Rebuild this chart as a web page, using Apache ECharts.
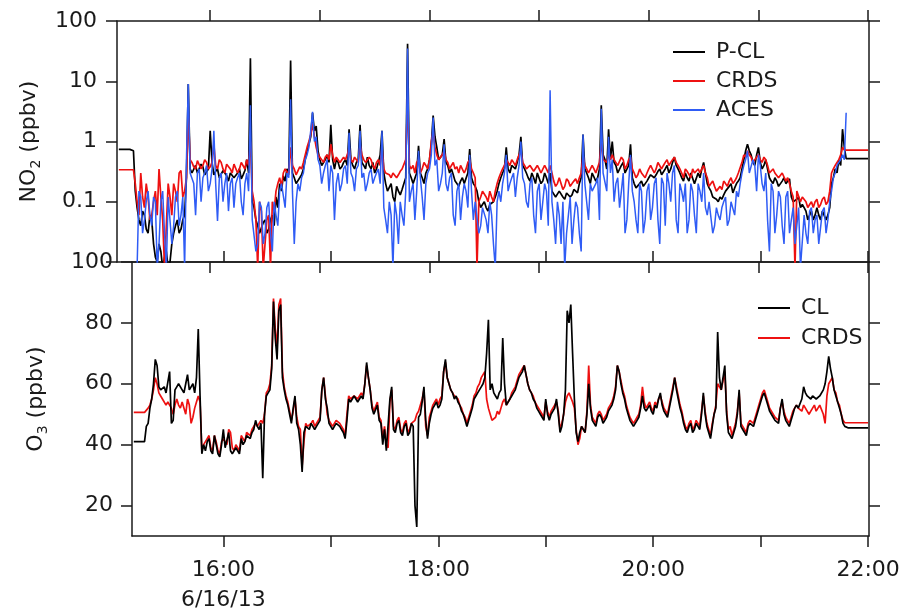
<!DOCTYPE html>
<html><head><meta charset="utf-8">
<script src="https://cdn.jsdelivr.net/npm/echarts@6/dist/echarts.min.js"></script>
<style>html,body{margin:0;padding:0;background:#fff}#c{width:904px;height:613px}</style>
</head><body><div id="c"></div><script>
// Time in minutes after 15:00 (6/16/13).
// "Even" arrays: readings at 15:10, 15:12, ... 22:00; "odd" arrays: readings at 15:11, 15:13, ... 21:59
const evenStart = 10, oddStart = 11, stepMinutes = 2;

// NO2 (ppbv), top panel
const no2PCL_even = [
 0.74,0.74,0.74,0.74,0.7,0.08,0.04,0.06,0.03,0.05,
 0.012,0.02,0.008,0.015,0.01,0.03,0.05,0.035,0.06,9.0,
 0.3,0.4,0.32,0.38,0.3,1.5,0.28,0.35,0.25,0.3,
 0.22,0.32,0.26,0.35,0.28,0.5,24,0.08,0.04,0.03,
 0.05,0.035,0.06,0.12,0.2,0.27,0.35,22,0.25,0.2,
 0.28,0.5,0.9,3.0,1.8,0.5,0.4,0.6,1.9,0.35,
 0.45,0.38,0.5,1.6,0.4,0.45,1.9,0.4,0.55,0.35,
 0.3,0.45,1.5,0.2,0.15,0.12,0.18,0.13,0.2,42,
 0.25,0.2,0.85,0.25,0.3,0.5,2.7,0.8,0.5,1.1,
 0.4,0.35,0.22,0.18,0.25,0.2,0.75,0.2,0.15,0.08,
 0.1,0.07,0.09,0.12,0.2,0.3,0.8,0.3,0.4,0.45,
 1.2,0.35,0.25,0.3,0.2,0.28,0.22,0.25,0.3,0.14,
 0.12,0.16,0.11,0.15,0.13,0.17,0.2,1.3,0.3,0.2,
 0.28,0.25,4.0,0.5,1.6,1.0,0.4,0.3,0.45,0.3,
 0.9,0.2,0.18,0.22,0.17,0.25,0.3,0.28,0.35,0.3,
 0.4,0.35,0.55,0.35,0.25,0.3,0.22,0.28,0.2,0.25,
 0.45,0.2,0.15,0.12,0.1,0.11,0.15,0.18,0.14,0.2,
 0.25,0.5,0.9,0.6,0.4,0.8,0.35,0.5,0.25,0.2,
 0.22,0.18,0.25,0.2,0.12,0.1,0.12,0.09,0.07,0.06,
 0.05,0.08,0.05,0.07,0.06,0.2,0.35,0.5,1.6,0.52,
 0.52,0.52,0.52,0.52,0.52,0.52
];
const no2PCL_odd = [
 0.74,0.74,0.74,0.74,0.15,0.05,0.07,0.035,0.06,0.02,
 0.01,0.015,0.012,0.008,0.02,0.04,0.03,0.05,0.25,0.35,
 0.28,0.3,0.42,0.28,0.35,0.45,0.32,0.25,0.33,0.27,
 0.3,0.25,0.3,0.24,0.33,0.3,0.1,0.05,0.03,0.045,
 0.03,0.05,0.04,0.08,0.15,0.22,0.3,0.3,0.2,0.25,
 0.35,0.7,1.2,1.5,0.7,0.4,0.5,0.45,0.5,0.5,
 0.35,0.45,0.4,0.5,0.35,0.5,0.45,0.35,0.4,0.45,
 0.35,0.6,0.3,0.15,0.2,0.1,0.15,0.16,0.25,0.3,
 0.2,0.3,0.3,0.2,0.35,0.9,1.2,0.5,0.6,0.45,
 0.3,0.28,0.2,0.22,0.2,0.3,0.25,0.18,0.1,0.09,
 0.08,0.09,0.1,0.15,0.25,0.35,0.35,0.4,0.35,0.6,
 0.4,0.3,0.22,0.25,0.3,0.2,0.3,0.2,0.15,0.12,
 0.15,0.12,0.14,0.12,0.16,0.14,0.25,0.35,0.25,0.3,
 0.22,0.35,0.6,0.35,0.5,0.45,0.3,0.4,0.3,0.4,
 0.25,0.17,0.2,0.18,0.22,0.28,0.25,0.32,0.28,0.35,
 0.3,0.45,0.4,0.3,0.22,0.25,0.3,0.2,0.3,0.35,
 0.3,0.17,0.12,0.11,0.12,0.13,0.16,0.2,0.17,0.22,
 0.35,0.7,0.7,0.45,0.6,0.45,0.4,0.35,0.22,0.25,
 0.18,0.22,0.2,0.24,0.1,0.11,0.08,0.08,0.05,0.07,
 0.06,0.06,0.07,0.05,0.08,0.25,0.3,0.4,0.8,0.52,
 0.52,0.52,0.52,0.52,0.52
];
const no2CRDS_even = [
 0.34,0.34,0.34,0.34,0.34,0.1,0.3,0.08,0.12,0.06,
 0.15,0.35,0.05,0.008,0.12,0.2,0.1,0.33,0.15,3.0,
 0.45,0.35,0.5,0.4,0.45,0.38,0.9,0.35,0.45,0.3,
 0.4,0.3,0.45,0.35,0.42,0.5,1.0,0.1,0.008,0.07,
 0.008,0.06,0.1,0.15,0.25,0.3,0.35,0.8,0.35,0.3,
 0.35,0.6,1.0,2.0,0.8,0.55,0.45,0.6,0.9,0.45,
 0.55,0.45,0.5,0.8,0.45,0.5,0.9,0.5,0.45,0.5,
 0.35,0.5,0.8,0.3,0.28,0.3,0.25,0.32,0.35,5.0,
 0.35,0.3,0.5,0.35,0.4,0.5,1.5,0.6,0.55,0.7,
 0.45,0.4,0.35,0.3,0.4,0.35,0.5,0.3,0.008,0.12,
 0.15,0.1,0.12,0.15,0.25,0.35,0.5,0.4,0.45,0.5,
 0.7,0.4,0.35,0.38,0.3,0.35,0.3,0.35,0.4,0.22,
 0.2,0.24,0.18,0.22,0.2,0.24,0.25,0.6,0.35,0.3,
 0.35,0.3,1.0,0.5,0.6,0.6,0.5,0.4,0.5,0.4,
 0.55,0.3,0.28,0.3,0.25,0.35,0.4,0.35,0.45,0.4,
 0.5,0.45,0.55,0.4,0.3,0.35,0.3,0.35,0.28,0.3,
 0.4,0.25,0.2,0.18,0.15,0.16,0.2,0.22,0.2,0.25,
 0.3,0.6,0.7,0.55,0.5,0.6,0.45,0.5,0.3,0.35,
 0.3,0.25,0.3,0.25,0.15,0.008,0.15,0.12,0.1,0.09,
 0.08,0.11,0.09,0.12,0.1,0.3,0.4,0.5,0.8,0.72,
 0.72,0.72,0.72,0.72,0.72,0.72
];
const no2CRDS_odd = [
 0.34,0.34,0.34,0.34,0.2,0.06,0.12,0.2,0.05,0.1,
 0.06,0.12,0.008,0.2,0.06,0.15,0.3,0.12,0.25,0.5,
 0.38,0.48,0.35,0.5,0.35,0.45,0.4,0.5,0.35,0.42,
 0.35,0.42,0.3,0.45,0.35,0.4,0.15,0.05,0.1,0.008,
 0.05,0.008,0.07,0.2,0.18,0.35,0.28,0.4,0.28,0.38,
 0.45,0.8,1.3,1.2,0.6,0.5,0.55,0.5,0.6,0.55,
 0.45,0.55,0.6,0.5,0.55,0.45,0.6,0.45,0.55,0.4,
 0.45,0.4,0.35,0.32,0.25,0.3,0.28,0.35,0.5,0.4,
 0.4,0.45,0.3,0.45,0.35,1.0,0.8,0.5,0.6,0.5,
 0.35,0.45,0.38,0.4,0.3,0.45,0.35,0.25,0.1,0.15,
 0.12,0.15,0.1,0.2,0.3,0.4,0.45,0.5,0.4,0.6,
 0.45,0.35,0.4,0.32,0.4,0.3,0.4,0.3,0.3,0.18,
 0.25,0.16,0.24,0.18,0.22,0.2,0.3,0.4,0.3,0.4,
 0.3,0.45,0.5,0.45,0.5,0.5,0.4,0.55,0.35,0.5,
 0.35,0.25,0.35,0.28,0.3,0.4,0.3,0.45,0.35,0.45,
 0.4,0.5,0.45,0.35,0.25,0.32,0.25,0.3,0.35,0.35,
 0.3,0.18,0.22,0.15,0.18,0.22,0.18,0.25,0.22,0.3,
 0.45,0.55,0.6,0.45,0.55,0.5,0.55,0.4,0.28,0.3,
 0.25,0.3,0.22,0.2,0.12,0.15,0.1,0.12,0.08,0.1,
 0.1,0.08,0.11,0.09,0.15,0.35,0.45,0.6,0.72,0.72,
 0.72,0.72,0.72,0.72,0.72
];
const no2ACES_even = [
 null,null,null,null,null,0.008,0.12,0.05,0.15,0.04,
 0.1,0.02,0.15,0.008,0.12,0.04,0.15,0.06,0.008,9.0,
 0.3,0.06,0.35,0.25,0.4,0.2,1.5,0.048,0.3,0.2,
 0.07,0.25,0.2,0.3,0.06,0.3,4.0,0.05,0.02,0.08,
 0.03,0.1,0.015,0.06,0.15,0.2,0.3,5.0,0.02,0.2,
 0.25,0.5,0.8,3.1,1.2,0.4,0.3,0.5,0.4,0.05,
 0.3,0.2,0.4,1.4,0.25,0.35,1.5,0.3,0.2,0.35,
 0.25,0.35,1.5,0.05,0.1,0.008,0.06,0.1,0.04,35,
 0.15,0.05,0.7,0.12,0.2,0.35,2.5,0.5,0.2,0.9,
 0.15,0.3,0.04,0.2,0.12,0.15,0.6,0.05,0.1,0.04,
 0.08,0.03,0.06,0.008,0.15,0.2,0.6,0.2,0.3,0.25,
 1.0,0.2,0.08,0.25,0.03,0.2,0.1,0.15,7.1,0.05,
 0.1,0.02,0.008,0.06,0.02,0.1,0.03,1.3,0.1,0.2,
 0.15,0.25,3.5,0.3,1.2,0.5,0.2,0.08,0.3,0.05,
 0.6,0.1,0.03,0.15,0.05,0.2,0.08,0.25,0.02,0.2,
 0.3,0.1,0.4,0.03,0.15,0.2,0.05,0.15,0.03,0.15,
 0.3,0.06,0.1,0.04,0.06,0.08,0.12,0.05,0.1,0.15,
 0.2,0.4,0.7,0.3,0.4,0.6,0.2,0.3,0.015,0.15,
 0.06,0.12,0.02,0.15,0.05,0.02,0.08,0.008,0.03,0.07,
 0.03,0.06,0.02,0.08,0.05,0.15,0.3,0.45,0.6,3.0,
 null,null,null,null,null,null
];
const no2ACES_odd = [
 null,null,null,null,null,0.15,0.03,0.1,0.06,0.12,
 0.008,0.1,0.03,0.12,0.02,0.12,0.04,0.12,0.5,0.3,
 0.2,0.3,0.1,0.3,0.15,0.35,0.2,0.25,0.1,0.3,
 0.2,0.08,0.25,0.1,0.2,0.15,0.05,0.015,0.1,0.02,
 0.08,0.03,0.1,0.04,0.2,0.08,0.25,0.15,0.1,0.15,
 0.3,0.6,1.5,1.0,0.5,0.2,0.4,0.15,0.3,0.2,
 0.15,0.35,0.2,0.3,0.15,0.4,0.25,0.15,0.3,0.2,
 0.3,0.2,0.08,0.03,0.06,0.1,0.02,0.06,0.15,0.1,
 0.2,0.15,0.25,0.05,0.3,0.6,0.4,0.15,0.3,0.2,
 0.25,0.06,0.15,0.05,0.2,0.08,0.15,0.1,0.03,0.08,
 0.05,0.1,0.02,0.1,0.1,0.3,0.15,0.25,0.12,0.4,
 0.25,0.1,0.2,0.06,0.15,0.05,0.2,0.04,0.1,0.02,
 0.06,0.1,0.03,0.12,0.05,0.08,0.015,0.2,0.05,0.15,
 0.2,0.05,0.3,0.15,0.3,0.1,0.25,0.15,0.03,0.2,
 0.15,0.05,0.2,0.03,0.15,0.05,0.2,0.05,0.25,0.04,
 0.2,0.3,0.05,0.2,0.1,0.03,0.2,0.06,0.2,0.1,
 0.08,0.1,0.03,0.08,0.05,0.1,0.04,0.1,0.06,0.12,
 0.3,0.5,0.3,0.5,0.15,0.4,0.15,0.05,0.2,0.03,
 0.15,0.04,0.12,0.03,0.08,0.04,0.008,0.06,0.02,0.08,
 0.05,0.02,0.07,0.03,0.1,0.25,0.4,0.5,0.5,null,
 null,null,null,null,null
];

// O3 (ppbv), bottom panel
const o3CL_even = [
 41,41,41,41,47,55,68,59,58,57,
 64,48,59,60,57,63,59,57,78,37,
 38,42,37,40,36,45,39,38,37,38,
 42,41,43,44,48,45,29,56,58,87,
 68,86,58,53,47,56,45,31,46,45,
 47,46,48,62,52,47,46,47,45,42,
 55,54,56,55,55,67,58,50,53,47,
 45,38,59,44,48,43,47,44,46,13,
 50,59,42,50,53,52,55,68,60,57,
 56,53,50,46,50,55,57,59,62,81,
 60,56,57,75,53,55,57,60,63,66,
 60,57,54,51,49,55,48,50,55,44,
 50,84,86,55,41,46,44,60,48,46,
 50,47,49,52,55,66,60,55,50,47,
 47,49,56,51,53,50,52,57,51,49,
 55,62,55,50,45,46,44,47,45,57,
 46,42,50,77,58,66,44,42,46,58,
 45,43,47,46,50,54,57,53,50,48,
 47,55,48,46,50,53,52,59,56,55,
 56,55,56,60,69,62,56,52,47,45.5,
 45.5,45.5,45.5,45.5,45.5,45.5
];
const o3CL_odd = [
 41,41,41,46,52,60,66,58,59,57,
 47,58,60,58,60,58,60,62,56,40,
 41,38,43,37,40,39,44,37,39,37,
 40,43,42,45,46,47,50,57,65,75,
 84,62,55,50,52,47,40,44,46,47,
 45,47,58,55,47,45,47,46,44,48,
 54,56,54,56,60,62,52,50,48,40,
 38,55,45,47,44,46,43,47,20,49,
 54,48,47,52,54,53,64,62,58,55,
 54,51,48,48,52,56,58,60,70,58,
 57,55,58,60,54,56,58,62,64,63,
 58,55,52,50,48,50,50,52,50,46,
 58,80,70,44,44,45,50,52,47,49,
 49,48,51,53,58,64,57,52,48,46,
 48,52,52,52,51,53,55,53,50,52,
 58,58,52,47,44,47,45,46,50,50,
 44,46,52,62,62,50,43,44,50,46,
 44,46,47,48,52,56,55,51,49,48,
 52,50,47,48,52,52,55,57,56,56,
 55,56,58,64,65,58,54,50,46,45.5,
 45.5,45.5,45.5,45.5,45.5
];
const o3CRDS_even = [
 50.6,50.6,50.6,50.6,52,55,62,57,55,53,
 54,50,55,52,54,55,47,52,56,38,
 40,43,38,41,37,42,40,44,38,39,
 43,41,44,45,47,46,47,57,60,88,
 72,88,59,54,48,55,46,33,47,46,
 48,47,49,62,50,48,47,48,46,43,
 56,55,56,55,56,66,58,51,54,48,
 46,39,58,45,49,44,48,45,47,50,
 51,58,43,51,54,53,56,67,60,57,
 56,53,50,47,51,56,59,62,64,52,
 48,49,50,54,53,55,58,61,64,66,
 60,57,54,52,50,54,49,51,54,45,
 50,56,57,52,40,46,44,66,49,47,
 51,48,50,53,56,66,61,56,51,48,
 48,50,59,52,54,51,53,56,52,50,
 56,62,56,51,46,47,45,48,46,56,
 47,43,50,60,58,64,45,43,47,57,
 46,44,48,47,51,55,58,54,51,49,
 48,54,49,47,51,53,52,53,52,51,
 53,52,53,47,60,62,57,53,48,47.2,
 47.2,47.2,47.2,47.2,47.2,47.2
];
const o3CRDS_odd = [
 50.6,50.6,50.6,51,53,58,60,56,55,54,
 52,53,53,54,50,53,49,54,54,40,
 42,39,43,38,41,41,45,39,40,38,
 42,44,43,46,46,48,50,58,66,78,
 86,64,56,51,51,49,45,41,46,47,
 46,48,58,56,48,46,48,47,45,50,
 55,56,55,57,60,62,53,51,49,42,
 40,54,46,48,45,47,44,47,48,51,
 55,46,49,53,55,55,64,62,58,56,
 55,52,49,49,53,57,60,63,55,50,
 48,51,52,55,54,57,59,63,65,63,
 58,56,53,51,49,51,51,53,51,47,
 54,57,54,45,42,46,51,53,48,50,
 50,49,52,54,59,64,58,53,49,47,
 49,53,54,53,52,54,55,54,51,53,
 59,59,53,48,45,48,46,47,51,51,
 45,47,53,60,61,51,46,45,51,47,
 45,47,48,49,53,57,56,52,50,49,
 52,51,48,49,52,52,51,52,50,52,
 51,53,50,56,61,58,54,50,47.2,47.2,
 47.2,47.2,47.2,47.2,47.2
];

// Axis ticks and labels
const hourTicks = [60,120,180,240,300,360,420];
const timeLabelTicks = [60,180,300,420];
const timeLabels = {60:'16:00\n6/16/13',180:'18:00',300:'20:00',420:'22:00'};
const o3Ticks = [20,40,60,80,100];

const FONT = 'DejaVu Sans';
const INK = '#1a1a1a';
const xMin = 9, xMax = 420.5;

// Interleave the even-minute and odd-minute readings into one time-ordered series
function merge(evenVals, oddVals){
  const out = [];
  for (let i = 0; i < evenVals.length; i++) {
    out.push([evenStart + i*stepMinutes, evenVals[i]]);
    if (i < oddVals.length) out.push([oddStart + i*stepMinutes, oddVals[i]]);
  }
  return out;
}

function xAx(grid, pos, showLabels){
  return {
    type:'value', gridIndex:grid, position:pos, min:xMin, max:xMax,
    axisLine:{show:true, onZero:false, lineStyle:{color:INK, width:1.5}},
    axisTick:{show:true, inside:false, length:11, customValues:hourTicks, lineStyle:{color:INK, width:1.5}},
    axisLabel:{show:showLabels, customValues:timeLabelTicks, margin:19,
      formatter:v=>timeLabels[Math.round(v)]||'',
      fontFamily:FONT, fontSize:22, color:INK, lineHeight:30},
    splitLine:{show:false}
  };
}

const option = {
  animation:false,
  backgroundColor:'#fff',
  grid:[
    {left:117, right:35, top:21, height:241, outerBoundsMode:'none', containLabel:false},
    {left:132, right:35, top:262, height:274, outerBoundsMode:'none', containLabel:false}
  ],
  xAxis:[ xAx(0,'bottom',false), xAx(0,'top',false), xAx(1,'top',false), xAx(1,'bottom',true) ],
  yAxis:[
    {type:'log', logBase:10, gridIndex:0, position:'left', min:0.01, max:100,
     axisLine:{show:true, lineStyle:{color:INK,width:1.5}},
     axisTick:{show:true, inside:false, length:11, lineStyle:{color:INK,width:1.5}},
     axisLabel:{margin:20, fontFamily:FONT, fontSize:22, color:INK,
       formatter:v=>{const e=Math.round(Math.log10(v)); if(e<=-2) return ''; if(e===-1) return '0.1'; return String(Math.pow(10,e));}},
     minorTick:{show:false}, splitLine:{show:false},
     name:'NO{s|2} (ppbv)', nameLocation:'middle', nameGap:74, nameRotate:90,
     nameTextStyle:{fontFamily:FONT, fontSize:22, color:INK, lineHeight:28,
       rich:{s:{fontFamily:FONT, fontSize:14, color:INK, verticalAlign:'bottom', lineHeight:20}}}
    },
    {type:'log', logBase:10, gridIndex:0, position:'right', min:0.01, max:100,
     axisLine:{show:true, lineStyle:{color:INK,width:1.5}},
     axisTick:{show:true, inside:false, length:11, lineStyle:{color:INK,width:1.5}},
     axisLabel:{show:false}, splitLine:{show:false}},
    {type:'value', gridIndex:1, position:'left', min:10, max:100,
     axisLine:{show:true, onZero:false, lineStyle:{color:INK,width:1.5}},
     axisTick:{show:true, inside:false, length:11, customValues:o3Ticks, lineStyle:{color:INK,width:1.5}},
     axisLabel:{margin:19, customValues:o3Ticks, fontFamily:FONT, fontSize:22, color:INK},
     splitLine:{show:false},
     name:'O{s|3} (ppbv)', nameLocation:'middle', nameGap:82, nameRotate:90,
     nameTextStyle:{fontFamily:FONT, fontSize:22, color:INK, lineHeight:28,
       rich:{s:{fontFamily:FONT, fontSize:14, color:INK, verticalAlign:'bottom', lineHeight:20}}}
    },
    {type:'value', gridIndex:1, position:'right', min:10, max:100,
     axisLine:{show:true, onZero:false, lineStyle:{color:INK,width:1.5}},
     axisTick:{show:true, inside:false, length:11, customValues:o3Ticks, lineStyle:{color:INK,width:1.5}},
     axisLabel:{show:false}, splitLine:{show:false}}
  ],
  legend:[
    {data:[{name:'P-CL',icon:'rect'},{name:'CRDS',icon:'rect'},{name:'ACES',icon:'rect'}],
     orient:'vertical', left:668, top:36, itemWidth:32, itemHeight:2, itemGap:7, selectedMode:false,
     textStyle:{fontFamily:FONT, fontSize:22, color:INK, lineHeight:22, padding:[0,0,0,6]}},
    {data:[{name:'CL',icon:'rect'},{name:'CRDS',icon:'rect'}],
     orient:'vertical', left:753, top:292, itemWidth:32, itemHeight:2, itemGap:8, selectedMode:false,
     textStyle:{fontFamily:FONT, fontSize:22, color:INK, lineHeight:22, padding:[0,0,0,6]}}
  ],
  series:[
    {name:'P-CL', type:'line', xAxisIndex:0, yAxisIndex:0, data:merge(no2PCL_even,no2PCL_odd), showSymbol:false, symbol:'none',
     color:'#000', lineStyle:{color:'#000', width:1.7}},
    {name:'CRDS', type:'line', xAxisIndex:0, yAxisIndex:0, data:merge(no2CRDS_even,no2CRDS_odd), showSymbol:false, symbol:'none',
     color:'#ee1111', lineStyle:{color:'#ee1111', width:1.7}},
    {name:'ACES', type:'line', xAxisIndex:0, yAxisIndex:0, data:merge(no2ACES_even,no2ACES_odd), showSymbol:false, symbol:'none',
     color:'#2f5cf5', lineStyle:{color:'#2f5cf5', width:1.5}},
    {name:'CRDS', type:'line', xAxisIndex:3, yAxisIndex:2, data:merge(o3CRDS_even,o3CRDS_odd), showSymbol:false, symbol:'none',
     color:'#ee1111', lineStyle:{color:'#ee1111', width:1.7}},
    {name:'CL', type:'line', xAxisIndex:3, yAxisIndex:2, data:merge(o3CL_even,o3CL_odd), showSymbol:false, symbol:'none',
     color:'#000', lineStyle:{color:'#000', width:1.7}}
  ]
};
const chart = echarts.init(document.getElementById('c'), null, {renderer:'canvas'});
chart.setOption(option);
</script></body></html>
